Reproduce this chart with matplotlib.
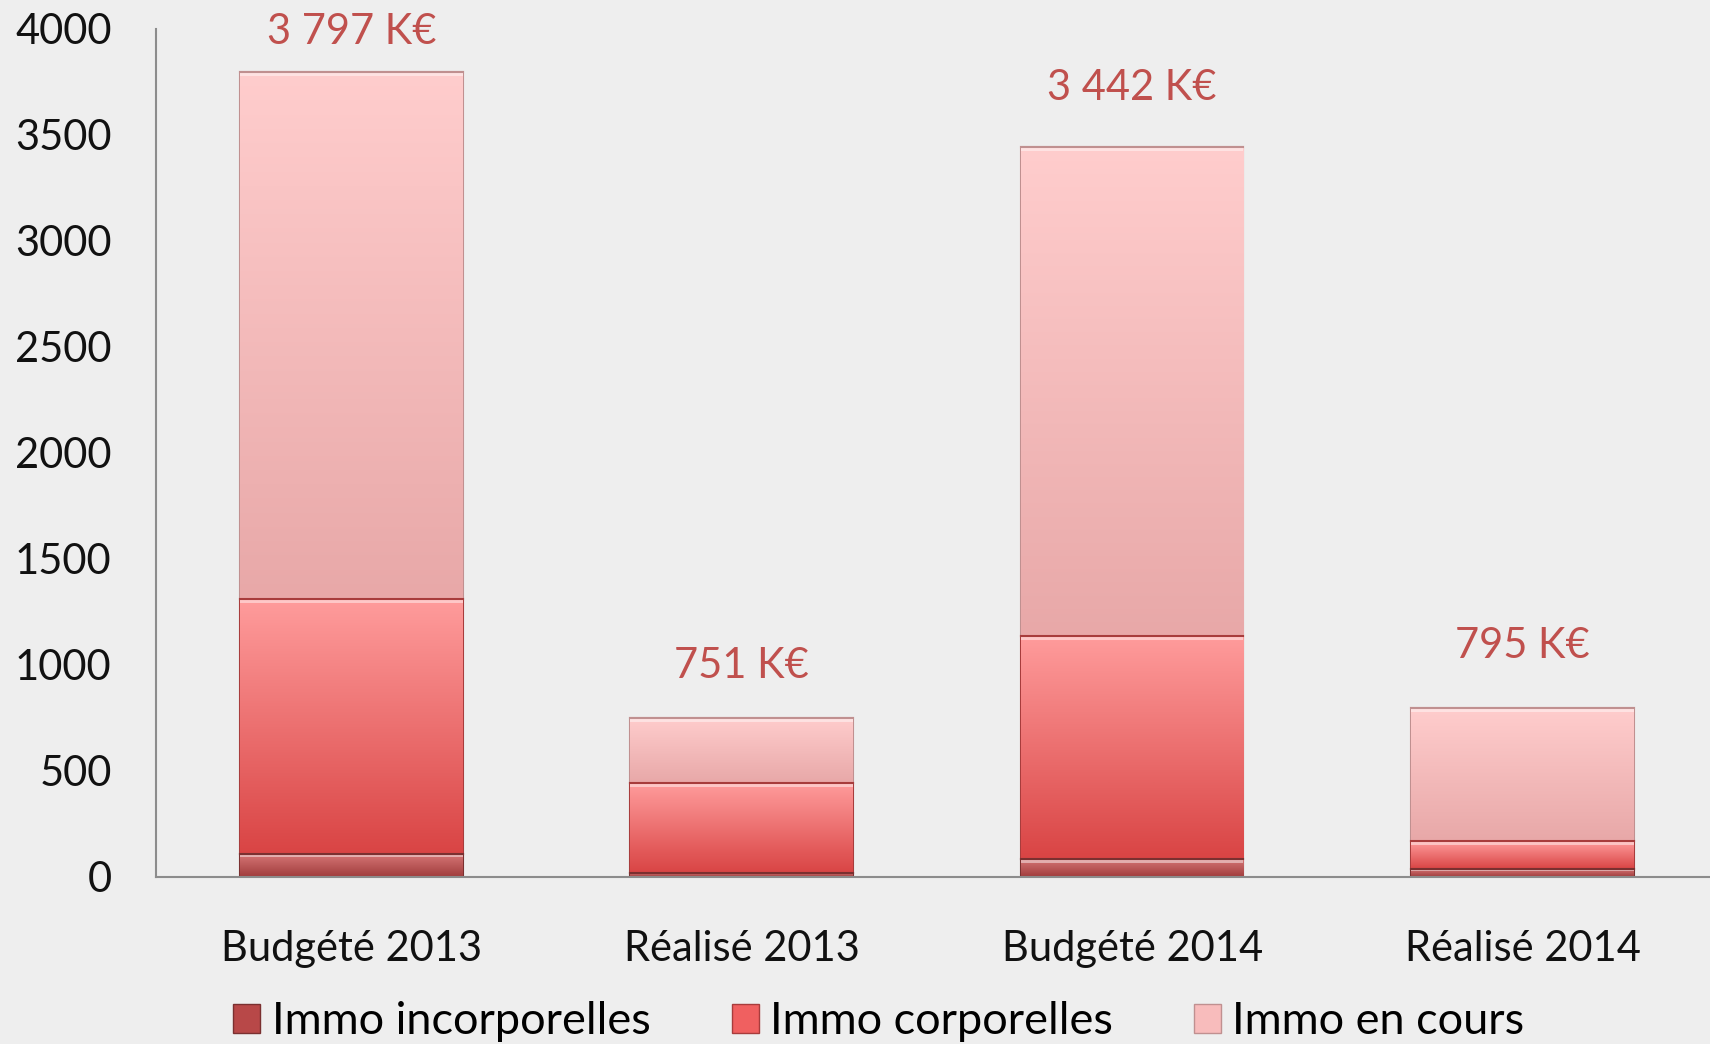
"""
stacked investment bars: budget vs actual, 2013-2014.
flat grey page, red/pink stacked segments with a soft vertical gradient.
"""

import numpy as np
import matplotlib.pyplot as plt
import matplotlib as mpl
from matplotlib.colors import LinearSegmentedColormap
from matplotlib.patches import Patch

# --- data ---

categories = ["Budgété 2013", "Réalisé 2013", "Budgété 2014", "Réalisé 2014"]
incorporelles = [110, 20, 85, 40]
corporelles = [1200, 424, 1053, 130]
en_cours = [2487, 307, 2304, 625]
totals = [3797, 751, 3442, 795]
series_names = ["Immo incorporelles", "Immo corporelles", "Immo en cours"]
yticks = [0, 500, 1000, 1500, 2000, 2500, 3000, 3500, 4000]

# --- style ---

BG = "#eeeeee"
AXIS = "#8c8c8c"
LABEL_RED = "#c0504d"
TEXT = "#111111"

# (bottom colour, top colour) per series
GRADS = [
    ("#a03c3c", "#d87878"),
    ("#d94444", "#ff9c9c"),
    ("#e8a8a8", "#ffcdcd"),
]
EDGES = ["#7a3030", "#a83c3c", "#c09090"]
LEG_COLORS = ["#b84848", "#f06060", "#f8bcbc"]
# label offset above each bar top, in points
LABEL_OFFSETS = [29, 37, 43, 45]

mpl.rcParams.update({
    "font.family": ["Lato", "DejaVu Sans"],
    "font.size": 30,
})

fig = plt.figure(figsize=(17.1, 10.44), dpi=100, facecolor=BG)
ax = fig.add_axes([156 / 1710, 1 - 877 / 1044, 1 - 156 / 1710, (877 - 29) / 1044])
ax.set_facecolor(BG)

x = np.arange(len(categories))
width = 0.57
bottom = np.zeros(len(categories))
legend_handles = []
for vals, name, (c0, c1), ec, lc in zip(
        [incorporelles, corporelles, en_cours], series_names, GRADS, EDGES, LEG_COLORS):
    bars = ax.bar(x, vals, width, bottom=bottom, color=c1, edgecolor=ec,
                  linewidth=1.5, zorder=2)
    cmap = LinearSegmentedColormap.from_list(name, [c0, c1])
    grad = np.linspace(0, 1, 256).reshape(-1, 1)
    for b in bars:
        x0, y0 = b.get_x(), b.get_y()
        im = ax.imshow(grad, cmap=cmap, aspect="auto", origin="lower",
                       extent=(x0, x0 + b.get_width(), y0, y0 + b.get_height()),
                       zorder=2.1, interpolation="bicubic")
        im.set_clip_path(b)
        # bevel highlight at the top of each segment
        h = min(18, b.get_height() * 0.35)
        ax.fill_between([x0, x0 + b.get_width()],
                        y0 + b.get_height() - h, y0 + b.get_height(),
                        color="white", alpha=0.45, lw=0, zorder=2.2)
        ax.plot([x0, x0 + b.get_width()], [y0 + b.get_height()] * 2,
                color=ec, lw=1.5, zorder=2.3)
    legend_handles.append(Patch(facecolor=lc, edgecolor=ec, label=name))
    bottom += np.array(vals)

for xi, t, off in zip(x, totals, LABEL_OFFSETS):
    ax.annotate(f"{t:,} K€".replace(",", " "), (xi, t),
                textcoords="offset points", xytext=(0, off),
                ha="center", va="center", color=LABEL_RED, fontsize=30,
                annotation_clip=False)

ax.set_xlim(-0.5, 3.48)
ax.set_ylim(0, 4000)
ax.set_yticks(yticks)
ax.set_xticks(x)
ax.set_xticklabels(categories)
ax.tick_params(axis="both", length=0, colors=TEXT, labelsize=30)
ax.tick_params(axis="y", pad=32)
ax.tick_params(axis="x", pad=38)
for s in ["top", "right"]:
    ax.spines[s].set_visible(False)
for s in ["left", "bottom"]:
    ax.spines[s].set_color(AXIS)
    ax.spines[s].set_linewidth(1.5)

fig.legend(handles=legend_handles, loc="center", bbox_to_anchor=(0.514, 1 - 1022 / 1044),
           ncol=3, frameon=False, fontsize=32.5, handlelength=0.6, handleheight=0.6,
           handletextpad=0.25, columnspacing=1.8)

fig.savefig("out.png", dpi=100, facecolor=BG)
